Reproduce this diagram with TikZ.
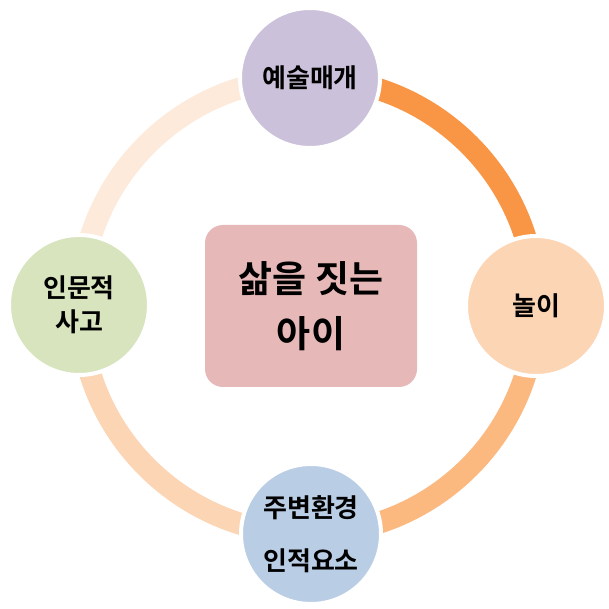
\documentclass[tikz,border=0pt]{standalone}
\usepackage{fontspec}
\newfontfamily\kr{Noto Sans CJK KR}[BoldFont=* Bold]
\definecolor{arcA}{RGB}{248,150,70}
\definecolor{arcB}{RGB}{251,185,128}
\definecolor{arcC}{RGB}{252,213,180}
\definecolor{arcD}{RGB}{253,234,218}
\definecolor{cTop}{RGB}{204,193,218}
\definecolor{cRight}{RGB}{252,213,180}
\definecolor{cLeft}{RGB}{215,228,189}
\definecolor{cBottom}{RGB}{185,205,229}
\definecolor{cCenter}{RGB}{230,185,184}
\begin{document}
\begin{tikzpicture}[x=1pt,y=1pt,
  ringarc/.style={line width=22pt},
  bub/.style={circle, minimum size=140pt, inner sep=0pt, draw=white, line width=4pt, font=\kr\bfseries\fontsize{26}{34}\selectfont, align=center},
  hub/.style={rectangle, rounded corners=18pt, minimum width=212pt, minimum height=162pt, inner sep=0pt, fill=cCenter, font=\kr\bfseries\fontsize{37}{55}\selectfont, align=center}]
\useasboundingbox (0,0) rectangle (608,609);
\fill[white] (0,0) rectangle (608,609);
\coordinate (o) at (308,303);
\draw[ringarc, arcA] (o) ++(90:228) arc[start angle=90, end angle=0, radius=228];
\draw[ringarc, arcB] (o) ++(0:228) arc[start angle=0, end angle=-90, radius=228];
\draw[ringarc, arcC] (o) ++(-90:228) arc[start angle=-90, end angle=-180, radius=228];
\draw[ringarc, arcD] (o) ++(180:228) arc[start angle=180, end angle=90, radius=228];
\node[hub] (c) at (311,303) {삶을 짓는\\아이};
\node[bub, fill=cTop] (t) at (310,531) {예술매개};
\node[bub, fill=cRight] (r) at (536,303) {놀이};
\node[bub, fill=cLeft] (l) at (79,304) {인문적\\사고};
\node[bub, fill=cBottom, font=\kr\bfseries\fontsize{26}{53}\selectfont] (b) at (311,75) {주변환경\\인적요소};
\end{tikzpicture}
\end{document}
